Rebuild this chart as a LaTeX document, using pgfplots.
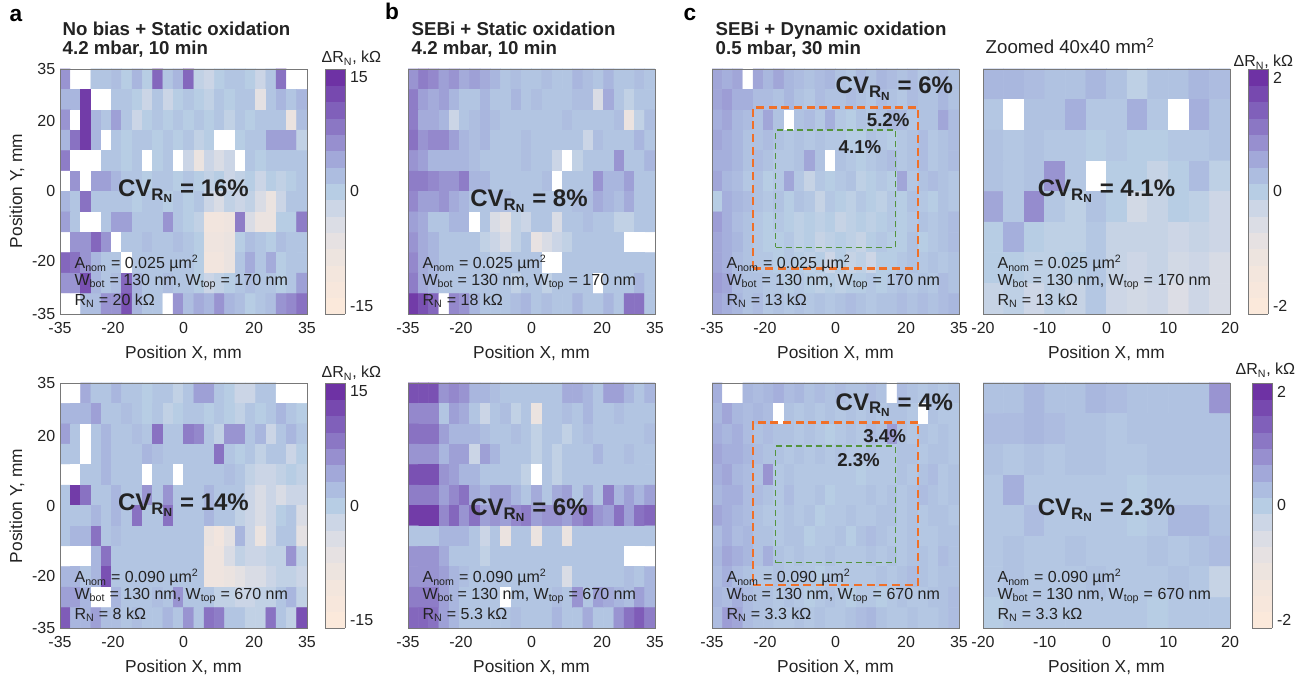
\documentclass[border=0pt]{standalone}
\usepackage{pgfplots}
\pgfplotsset{compat=1.18}
\usepackage{pgfplotstable}
\usepackage{fontspec}
\setmainfont{Liberation Sans}

% ---------- data: one grid row per text line, top row first; 99 = missing (white) cell ----------
\pgfplotstableread[row sep=\\]{
v\\
6\\ 99\\ 99\\ 1\\ 1\\ 2\\ 0\\ 3\\ 0\\ 10\\ 1\\ 3\\ 10\\ -1\\ -2\\ 0\\ 1\\ 1\\ 0\\ -2\\ 1\\ 9\\ 99\\ 99\\
3\\ 3\\ 14\\ 99\\ 99\\ 1\\ 1\\ 0\\ -2\\ 1\\ -2\\ 0\\ 1\\ 0\\ -1\\ 1\\ 0\\ 1\\ 1\\ -6\\ 1\\ 3\\ 1\\ 3\\
6\\ 99\\ 14\\ 3\\ 1\\ 5\\ 1\\ -2\\ 0\\ 1\\ 0\\ 1\\ 0\\ 1\\ 0\\ 1\\ -1\\ 1\\ 0\\ 1\\ 1\\ 1\\ -8\\ 2\\
3\\ 9\\ 14\\ 3\\ 99\\ 1\\ 0\\ 1\\ 1\\ 0\\ 1\\ 0\\ 1\\ -1\\ 0\\ 99\\ 99\\ 0\\ 1\\ 1\\ 5\\ 5\\ 5\\ -1\\
8\\ 99\\ 99\\ 99\\ 1\\ 1\\ 0\\ 1\\ 99\\ 0\\ 1\\ 99\\ -2\\ -8\\ -2\\ -4\\ -2\\ 99\\ 1\\ 0\\ 1\\ 1\\ 1\\ 1\\
99\\ 6\\ 99\\ 5\\ 5\\ 3\\ 1\\ 1\\ 0\\ 1\\ 1\\ 0\\ 1\\ 0\\ -1\\ 0\\ -2\\ -1\\ 0\\ -2\\ 0\\ -1\\ 0\\ 1\\
3\\ 1\\ 9\\ 1\\ 1\\ 1\\ 1\\ 0\\ 1\\ 1\\ 0\\ 1\\ 0\\ 1\\ -2\\ -4\\ -1\\ -2\\ -1\\ -4\\ -8\\ -2\\ 1\\ 1\\
5\\ 1\\ 99\\ 99\\ 1\\ 5\\ 5\\ 1\\ 1\\ 1\\ 6\\ 1\\ 0\\ -1\\ -10\\ -10\\ -9\\ 8\\ -4\\ -8\\ -8\\ 0\\ 0\\ 8\\
99\\ 6\\ 6\\ 10\\ 6\\ 99\\ 1\\ 1\\ 2\\ 1\\ 1\\ 2\\ 1\\ 0\\ -9\\ -9\\ -8\\ 0\\ 2\\ 1\\ 0\\ 2\\ 1\\ 1\\
10\\ 9\\ 6\\ 3\\ 1\\ 1\\ 99\\ 1\\ 1\\ 1\\ 1\\ 1\\ 1\\ 0\\ -10\\ -10\\ -8\\ 1\\ 4\\ 1\\ 4\\ 0\\ 1\\ 1\\
6\\ 6\\ 12\\ 3\\ 1\\ 2\\ 10\\ 3\\ 1\\ 1\\ 2\\ 1\\ 1\\ 0\\ -2\\ -1\\ 0\\ 1\\ 2\\ 1\\ 1\\ 0\\ 1\\ 5\\
99\\ 99\\ 2\\ 2\\ 6\\ 6\\ 12\\ 3\\ 1\\ 1\\ 99\\ 6\\ 2\\ 4\\ 3\\ 6\\ 3\\ 2\\ 0\\ 1\\ 2\\ 6\\ 7\\ 9\\
}\tAtop

\pgfplotstableread[row sep=\\]{
v\\
99\\ 99\\ 4\\ 1\\ 1\\ 3\\ 1\\ 1\\ 0\\ 1\\ 1\\ -1\\ 1\\ 5\\ 5\\ 1\\ 0\\ -2\\ -2\\ 1\\ 1\\ 99\\ 99\\ 99\\
3\\ 3\\ 3\\ 5\\ 1\\ 1\\ 2\\ 1\\ 0\\ 1\\ -1\\ 0\\ 1\\ 1\\ 0\\ 1\\ 0\\ -1\\ 1\\ 0\\ 1\\ 3\\ 1\\ 0\\
5\\ 1\\ 99\\ 1\\ 3\\ 1\\ 1\\ 2\\ 1\\ 9\\ 1\\ 1\\ 8\\ 7\\ 1\\ -1\\ 6\\ 6\\ 1\\ 3\\ -2\\ 1\\ 3\\ 1\\
1\\ 1\\ 99\\ 1\\ 3\\ 1\\ 1\\ 1\\ 3\\ 2\\ 1\\ 1\\ 1\\ 1\\ 1\\ 9\\ 1\\ 0\\ 1\\ -1\\ 1\\ 1\\ -2\\ 0\\
99\\ 99\\ 1\\ 1\\ 3\\ 1\\ 1\\ 1\\ 99\\ 1\\ 1\\ 99\\ 1\\ 1\\ 1\\ 1\\ 2\\ 1\\ -1\\ -2\\ -2\\ -1\\ 0\\ -1\\
1\\ 14\\ 9\\ 1\\ 1\\ 3\\ 1\\ 1\\ 6\\ 1\\ 6\\ 1\\ 1\\ 1\\ 3\\ 1\\ 1\\ 1\\ -2\\ -4\\ -2\\ -4\\ -2\\ -2\\
1\\ 1\\ 1\\ 3\\ 1\\ 3\\ 1\\ 9\\ 1\\ 1\\ 9\\ 1\\ 1\\ 1\\ 3\\ 1\\ 1\\ -1\\ -2\\ -4\\ -2\\ 0\\ 1\\ -4\\
1\\ 3\\ 3\\ 9\\ 1\\ 2\\ 1\\ 1\\ 1\\ 1\\ 1\\ 1\\ 1\\ 1\\ -8\\ -10\\ -6\\ 3\\ -2\\ -8\\ -2\\ 1\\ 1\\ -6\\
99\\ 99\\ 99\\ 3\\ 9\\ 1\\ 1\\ 1\\ 1\\ 1\\ 1\\ 1\\ 1\\ 1\\ -9\\ -9\\ -4\\ -1\\ -2\\ -2\\ -1\\ -1\\ 6\\ -1\\
3\\ 3\\ 1\\ 3\\ 12\\ 1\\ 1\\ 1\\ 1\\ 1\\ 1\\ 1\\ 1\\ 1\\ -9\\ -9\\ -8\\ -6\\ -4\\ -4\\ -2\\ -1\\ -1\\ -2\\
5\\ 5\\ 3\\ 99\\ 99\\ 3\\ 1\\ 1\\ 1\\ 2\\ 1\\ 6\\ 1\\ 1\\ 1\\ -1\\ -1\\ -2\\ -2\\ -1\\ -1\\ 1\\ 3\\ -1\\
11\\ 3\\ 3\\ 5\\ 2\\ 2\\ 1\\ 2\\ 1\\ 1\\ 3\\ 1\\ 6\\ 1\\ 9\\ 8\\ 1\\ 1\\ -1\\ -1\\ 9\\ 1\\ -1\\ 12\\
}\tAbot

\pgfplotstableread[row sep=\\]{
v\\
6\\ 8\\ 7\\ 5\\ 6\\ 4\\ 5\\ 4\\ 3\\ 1\\ 2\\ 1\\ 1\\ 2\\ 1\\ 1\\ 3\\ 2\\ 1\\ 3\\ 1\\ 1\\ 2\\ 1\\
8\\ 5\\ 4\\ 5\\ 3\\ 1\\ 1\\ 3\\ 1\\ 1\\ 3\\ 1\\ 2\\ 1\\ 1\\ 1\\ 2\\ 2\\ -4\\ 4\\ 1\\ -1\\ 1\\ 1\\
8\\ 4\\ 4\\ 3\\ -2\\ 1\\ 2\\ 3\\ 2\\ 1\\ 1\\ 1\\ 1\\ 1\\ 1\\ 2\\ 1\\ 1\\ 1\\ 1\\ 2\\ -8\\ -1\\ 2\\
9\\ 6\\ 7\\ 7\\ 5\\ 3\\ 2\\ 3\\ 1\\ 1\\ 1\\ 2\\ 1\\ 1\\ 1\\ 1\\ 1\\ -2\\ 2\\ 1\\ 1\\ 1\\ 3\\ 1\\
6\\ 5\\ 3\\ 3\\ 3\\ 3\\ 2\\ 1\\ 1\\ 1\\ 1\\ 2\\ 1\\ 1\\ -2\\ 99\\ -1\\ 1\\ 1\\ 1\\ 6\\ 1\\ 1\\ 3\\
8\\ 8\\ 7\\ 6\\ 6\\ 8\\ 3\\ 3\\ 1\\ 1\\ 1\\ 1\\ 1\\ 2\\ 99\\ 1\\ 1\\ 1\\ 6\\ 3\\ 3\\ 5\\ 1\\ 1\\
7\\ 5\\ 5\\ 6\\ 4\\ 3\\ 1\\ 1\\ 2\\ 2\\ 1\\ 1\\ 1\\ 1\\ 1\\ 1\\ 2\\ 2\\ 4\\ 3\\ 2\\ 4\\ 1\\ 1\\
5\\ 4\\ 1\\ 1\\ 3\\ 3\\ 99\\ 1\\ -4\\ -6\\ -1\\ -2\\ 1\\ 1\\ -4\\ 1\\ 1\\ 2\\ 1\\ 1\\ -1\\ -1\\ 1\\ 1\\
6\\ 4\\ 3\\ 1\\ 1\\ 1\\ 1\\ -1\\ -2\\ -4\\ -1\\ 1\\ -7\\ -4\\ -2\\ -1\\ 1\\ 1\\ 1\\ 1\\ 1\\ 99\\ 99\\ 99\\
7\\ 4\\ 3\\ 1\\ 1\\ 1\\ 1\\ 1\\ -1\\ 1\\ 1\\ 1\\ 1\\ 99\\ 99\\ 1\\ 1\\ 1\\ 1\\ 1\\ 1\\ 1\\ 1\\ 1\\
8\\ 4\\ 3\\ 1\\ 1\\ 1\\ 1\\ 1\\ 1\\ 1\\ -1\\ 1\\ 1\\ -1\\ 1\\ 1\\ 1\\ 1\\ 99\\ 1\\ 1\\ 1\\ 3\\ 1\\
14\\ 12\\ 10\\ 99\\ 7\\ 6\\ 3\\ 1\\ 1\\ 1\\ 2\\ 3\\ 1\\ 2\\ 1\\ 1\\ 3\\ 1\\ 1\\ 3\\ 1\\ 9\\ 9\\ 1\\
}\tBtop

\pgfplotstableread[row sep=\\]{
v\\
12\\ 12\\ 12\\ 6\\ 7\\ 6\\ 3\\ 3\\ 2\\ 1\\ 1\\ 1\\ 1\\ 1\\ 1\\ 4\\ 4\\ 3\\ 1\\ 5\\ 5\\ 3\\ 1\\ 3\\
7\\ 7\\ 7\\ 1\\ 5\\ 4\\ 1\\ -2\\ 1\\ 2\\ -1\\ 1\\ -8\\ 1\\ 1\\ 2\\ 1\\ 3\\ 1\\ 1\\ 2\\ 1\\ 1\\ 1\\
9\\ 9\\ 9\\ 5\\ 3\\ 3\\ 3\\ 2\\ 1\\ 1\\ 2\\ 1\\ -1\\ 1\\ 1\\ -1\\ 1\\ 2\\ 1\\ 1\\ 1\\ 1\\ 1\\ 2\\
6\\ 6\\ 6\\ 3\\ 5\\ 5\\ -2\\ 5\\ 3\\ 1\\ 1\\ 1\\ -1\\ 1\\ -1\\ 1\\ 1\\ 1\\ 3\\ 1\\ 1\\ 2\\ 1\\ 1\\
12\\ 12\\ 12\\ 6\\ 5\\ 3\\ 3\\ 1\\ 1\\ 1\\ 1\\ -1\\ 99\\ 1\\ -1\\ 1\\ 1\\ 1\\ 1\\ 1\\ 1\\ 1\\ 1\\ 1\\
8\\ 8\\ 8\\ 5\\ 7\\ 9\\ 4\\ 3\\ 5\\ 5\\ 3\\ 1\\ 4\\ 1\\ 4\\ 5\\ 1\\ 4\\ 1\\ 8\\ 3\\ 5\\ 3\\ 5\\
14\\ 14\\ 14\\ 7\\ 10\\ 6\\ 9\\ 5\\ 6\\ 5\\ 7\\ 8\\ 5\\ 6\\ 6\\ 5\\ 7\\ 9\\ 6\\ 5\\ 9\\ 5\\ 9\\ 10\\
1\\ 1\\ 1\\ 3\\ 3\\ 3\\ 1\\ -2\\ 1\\ -8\\ 1\\ 1\\ -8\\ 1\\ 1\\ -8\\ 1\\ 1\\ 1\\ 1\\ 1\\ 1\\ 1\\ 1\\
6\\ 6\\ 6\\ 4\\ 1\\ 1\\ 1\\ -1\\ 1\\ 1\\ 1\\ 1\\ 1\\ 1\\ 1\\ 1\\ 1\\ 1\\ 1\\ 1\\ 1\\ 99\\ 99\\ 99\\
6\\ 6\\ 6\\ 5\\ 3\\ 2\\ 1\\ 1\\ 1\\ 1\\ 1\\ 1\\ 1\\ 1\\ 1\\ -4\\ 1\\ 1\\ 1\\ 1\\ 1\\ 2\\ 1\\ 3\\
8\\ 8\\ 8\\ 5\\ 3\\ 1\\ 1\\ 1\\ 1\\ 99\\ 1\\ 1\\ 1\\ 1\\ 2\\ 1\\ 6\\ 1\\ 5\\ 4\\ 3\\ 2\\ 5\\ 3\\
10\\ 10\\ 9\\ 5\\ 3\\ 1\\ 1\\ 1\\ 1\\ 1\\ 2\\ 1\\ 1\\ 1\\ 3\\ 1\\ 1\\ 4\\ 1\\ 1\\ 6\\ 9\\ 11\\ 8\\
}\tBbot

\pgfplotstableread[row sep=\\]{
v\\
0.6\\ 0.5\\ 0.6\\ 99\\ 0.6\\ 0.4\\ 0.6\\ 0.4\\ 0.3\\ 0.2\\ 0.3\\ 0.4\\ 0.2\\ 0.1\\ 0.3\\ 0.2\\ 0.4\\ 0.3\\ 0.2\\ 0.3\\ 0.1\\ 0.2\\ 0.3\\ 0.2\\
0.6\\ 0.7\\ 0.5\\ 0.5\\ 0.3\\ 0.3\\ 0.2\\ 0.4\\ 0.2\\ 0.1\\ 0.3\\ 0.2\\ 0.2\\ 0.3\\ 0.2\\ 0.1\\ 0.3\\ 0.2\\ 0.1\\ 0.3\\ 0.2\\ 0.2\\ 0.4\\ 0.2\\
0.5\\ 0.6\\ 0.4\\ 0.3\\ 0.2\\ 0.6\\ 0.2\\ 99\\ 0.2\\ 0.3\\ 0.1\\ 0.5\\ 0.1\\ 0\\ 0.2\\ 0.1\\ 0.2\\ 0.4\\ 0.3\\ 0.1\\ 0.2\\ 0.2\\ 0.6\\ 0.3\\
0.6\\ 0.5\\ 0.4\\ 0.2\\ 0.2\\ 0.3\\ 0.2\\ 0.1\\ 0.2\\ 0.1\\ 0.2\\ 0.1\\ 0.1\\ 0\\ 0\\ 0.2\\ 0.1\\ 0\\ 0.1\\ 0.2\\ 0.3\\ 0.1\\ 0.2\\ 0.3\\
0.5\\ 0.5\\ 0.4\\ 0.2\\ 0.3\\ 0.2\\ 0.1\\ 0.1\\ 0.2\\ 0.6\\ 0.2\\ 99\\ 0.2\\ 0.1\\ 0\\ 0.1\\ 0.2\\ 0.3\\ 0.1\\ 0.2\\ 0.3\\ 0.1\\ 0.2\\ 0.3\\
0.6\\ 0.4\\ 0.3\\ 0.1\\ 0.2\\ 0\\ 0.1\\ 0.6\\ 0.1\\ -0.2\\ 0.1\\ 0\\ 0.1\\ 0.2\\ -0.1\\ 0\\ 0.1\\ 0\\ 0.6\\ 0.1\\ 0.2\\ 0.3\\ 0.2\\ 0.1\\
0\\ 0.5\\ 0.4\\ 0.3\\ 0.2\\ 0.1\\ 0.2\\ 0\\ 0.2\\ 0.1\\ -0.2\\ 0.1\\ 0\\ -0.1\\ 0.1\\ 0\\ -0.1\\ 0.1\\ 0\\ 0.2\\ 0.1\\ 0\\ 0.2\\ 0.1\\
0.7\\ 0.5\\ 0.3\\ 0.2\\ 0.1\\ 0\\ 0.1\\ 0\\ -0.1\\ 0\\ -0.1\\ 0\\ -0.2\\ -0.1\\ 0\\ -0.1\\ 0\\ 0.1\\ 0\\ 0.1\\ 0.2\\ 0.1\\ 0.2\\ 0.3\\
0.6\\ 0.5\\ 0.4\\ 0.2\\ 0.1\\ 0\\ 0\\ 0.1\\ -0.1\\ 0\\ -0.2\\ -0.1\\ 0\\ -0.1\\ -0.2\\ 0\\ 0.1\\ 0\\ 0\\ 0.2\\ 0\\ 0.1\\ 0.2\\ 0.3\\
0.6\\ 0.5\\ 0.3\\ 0.2\\ 0.1\\ 0.1\\ 0\\ 0.1\\ 0\\ -0.1\\ 0\\ -0.3\\ 0\\ -0.2\\ -0.1\\ -0.3\\ 0\\ 0\\ 0.1\\ 0.2\\ 0.1\\ 0.2\\ 0.1\\ 0.2\\
0.7\\ 0.6\\ 0.3\\ 0.2\\ 0.2\\ 0.1\\ 0.1\\ 0\\ 0.1\\ 0\\ -0.1\\ 0\\ -0.1\\ 0\\ 0\\ 0.1\\ 0\\ 0.1\\ 0.2\\ 0.1\\ 0.2\\ 0.1\\ 0.3\\ 0.2\\
0.6\\ 0.5\\ 0.4\\ 0.2\\ 0.3\\ 0.1\\ 0.2\\ 0.1\\ 0.2\\ 0.1\\ 0.2\\ 0.1\\ 0.2\\ 0.3\\ 0.2\\ 0.1\\ 0.2\\ 0.2\\ 0.3\\ 0.2\\ 0.3\\ 0.2\\ 0.3\\ 0.4\\
}\tCtop

\pgfplotstableread[row sep=\\]{
v\\
0.5\\ 99\\ 99\\ 0.4\\ 0.3\\ 0.4\\ 0.5\\ 0.3\\ 0.4\\ 0.2\\ 0.3\\ 0.2\\ 0.3\\ 0.2\\ 0.2\\ 0.3\\ 0.2\\ 99\\ 0.3\\ 0.2\\ 0.1\\ 0.2\\ 0.1\\ 0.2\\
0.4\\ 0.6\\ 0.4\\ 0.3\\ 0.4\\ 0.3\\ 99\\ 0.2\\ 0.1\\ 0.2\\ 0.1\\ 0.2\\ 0.1\\ 0.2\\ 0.1\\ 0.2\\ 0.1\\ 0.2\\ 0.2\\ 0.1\\ 99\\ 0.2\\ 0.1\\ 0.1\\
0.5\\ 0.4\\ 0.5\\ 0.3\\ 0.2\\ 0.3\\ 0.2\\ 0.2\\ 0.1\\ 0.2\\ 0.1\\ 0\\ 0.1\\ 0.2\\ 0.1\\ 0.3\\ 0.2\\ 0.7\\ 0.2\\ 0.1\\ 0.2\\ 0.1\\ 0.2\\ 0.1\\
0.6\\ 0.5\\ 0.5\\ 0.4\\ 0.3\\ 0.2\\ 0.2\\ 0.1\\ 0.2\\ 0.1\\ 0.2\\ 0.1\\ 0.2\\ 0.1\\ 0.1\\ 0.2\\ 0.1\\ 0.1\\ 0.2\\ 0.2\\ 0.1\\ 0.2\\ 0.2\\ 0.1\\
0.5\\ 0.6\\ 0.4\\ 0.3\\ 0.2\\ 0.8\\ 0.1\\ 0.2\\ 0.1\\ 0.1\\ 0.1\\ 0.1\\ 0.1\\ 0.1\\ 0\\ 0.1\\ 0.1\\ 0.1\\ 0.2\\ 0.1\\ 0.2\\ 0.3\\ 0.1\\ 0.2\\
0.4\\ 0.5\\ 0.5\\ 0.3\\ 0.3\\ 0.2\\ 0.1\\ 0.3\\ 0.1\\ 0.1\\ 0.2\\ 0\\ 0.1\\ 0.1\\ 0.1\\ 0.2\\ 0.1\\ 0.2\\ 0.1\\ 0.2\\ 0.3\\ 0.2\\ 0.1\\ 0.2\\
0.6\\ 0.5\\ 0.4\\ 0.3\\ 0.2\\ 0.1\\ 0.1\\ 0.2\\ 0.1\\ 0.2\\ 0\\ 0.1\\ 0.1\\ 0.2\\ 0.1\\ 0.1\\ 0.2\\ 0.2\\ 0.1\\ 0.2\\ 0.1\\ 0.2\\ 0.2\\ 0.1\\
0.3\\ 0.5\\ 0.3\\ 0.4\\ 0.2\\ 0.2\\ 0.1\\ 0.2\\ 0.2\\ 0\\ 0.1\\ 0.1\\ 0.2\\ 0\\ 0.2\\ 0.3\\ 0.2\\ 0.1\\ 0.1\\ 0.2\\ 0.1\\ 0.1\\ 0.2\\ 0.2\\
0.4\\ 0.6\\ 0.5\\ 0.4\\ 0.2\\ 0.5\\ 0.2\\ 0.1\\ 0.2\\ 0.1\\ 0.1\\ 0.2\\ 0.1\\ 0.1\\ 0.1\\ 0.2\\ 0.1\\ 0.2\\ 0.1\\ 0.2\\ 0.2\\ 0.1\\ 0.3\\ 0.2\\
0.3\\ 0.5\\ 0.3\\ 0.2\\ 0.1\\ 0.1\\ 0.2\\ 0.1\\ 0.1\\ 0.1\\ 0\\ 0.1\\ 0.1\\ 0.1\\ 0.1\\ 0.1\\ 0.2\\ 0.1\\ 0.2\\ 0.3\\ 0.2\\ 0.1\\ 0.2\\ 0.2\\
0.4\\ 0.3\\ 0.5\\ 0.3\\ 0.2\\ 0.2\\ 0.1\\ 0.2\\ 0.1\\ 0\\ 0.1\\ 0.2\\ 0.1\\ 0\\ 0.1\\ 0.1\\ 0\\ 0.1\\ 0.2\\ 0.1\\ 0.1\\ 0.2\\ 0.2\\ 0.3\\
0.3\\ 0.7\\ 0.6\\ 0.3\\ 0.2\\ 0.2\\ 0.1\\ 0.1\\ 0.2\\ 0.1\\ 0.2\\ 0.1\\ 0.1\\ 0.2\\ 0.3\\ 0.4\\ 0.2\\ 0.1\\ 0.1\\ 0.2\\ 0.1\\ 0.1\\ 0.2\\ 0.3\\
}\tCbot

\pgfplotstableread[row sep=\\]{
v\\
0.4\\ 0.4\\ 0.3\\ 0.2\\ 0.2\\ 0.4\\ 0.2\\ -0.1\\ 0.2\\ 0.2\\ 0.4\\ 0.3\\
0.1\\ 99\\ 0.2\\ 0.2\\ 0.5\\ 0.1\\ 0.1\\ 0.5\\ 0.1\\ 99\\ 0.5\\ 0.2\\
0.2\\ 0.1\\ 0.2\\ 0.1\\ 0.1\\ 0\\ 0.1\\ 0\\ 0\\ 0.1\\ 0.1\\ 0.2\\
0.2\\ 0.1\\ 0.2\\ 0.8\\ 0.1\\ 99\\ 0\\ 0\\ -0.2\\ 0\\ 0.3\\ -0.1\\
0.6\\ 0.1\\ 0.9\\ 0.1\\ -0.1\\ 0.2\\ 0\\ -0.4\\ -0.2\\ 0\\ -0.1\\ -0.3\\
0\\ 0.5\\ 0\\ -0.1\\ -0.1\\ 0.1\\ -0.2\\ -0.2\\ -0.2\\ -0.3\\ -0.2\\ -0.3\\
0\\ 0\\ -0.1\\ -0.1\\ 0\\ 0.1\\ -0.2\\ -0.3\\ -0.2\\ -0.4\\ -0.3\\ -0.5\\
-0.2\\ -0.1\\ -0.3\\ -0.1\\ -0.2\\ 0.1\\ -0.3\\ -0.4\\ -0.3\\ -0.6\\ -0.3\\ -0.5\\
}\tZtop

\pgfplotstableread[row sep=\\]{
v\\
0.2\\ 0.2\\ 0.4\\ 0.2\\ 0.2\\ 0.4\\ 0.3\\ 0.2\\ 0.2\\ 0.2\\ 0.2\\ 0.8\\
0.3\\ 0.3\\ 0.4\\ 0.3\\ 0.2\\ 0.2\\ 0.1\\ 0.2\\ 0.2\\ 0.2\\ 0.2\\ 0.2\\
0.2\\ 0.1\\ 0.2\\ 0.1\\ 0.2\\ 0.2\\ 0.1\\ 0.1\\ 0.2\\ 0.2\\ 0.2\\ 0.2\\
0.1\\ 0.5\\ 0.1\\ 0.1\\ 0.1\\ 0.1\\ 0.1\\ 0\\ 0.1\\ 0.1\\ 0.1\\ 0.1\\
0.1\\ 0.1\\ 0.3\\ 0.1\\ 0.1\\ 0.1\\ 0.1\\ 0\\ 0.1\\ 0.4\\ 0.4\\ 0.2\\
0.1\\ 0.2\\ 0.1\\ 0.1\\ 0.2\\ 0.1\\ 0.1\\ 0.1\\ 0.2\\ 0.1\\ 0.2\\ 0.3\\
0.1\\ 0.2\\ 0.1\\ 0.1\\ 0.1\\ 0.2\\ 0.1\\ 0.1\\ 0.1\\ 0.2\\ 0.1\\ -0.2\\
0\\ 0.1\\ 0.1\\ 0.1\\ 0.1\\ 0.1\\ 0.1\\ 0.1\\ 0\\ 0.1\\ 0.1\\ 0.1\\
}\tZbot

% ---------- styles ----------
\definecolor{frame}{RGB}{120,120,120}
\definecolor{txt}{RGB}{35,35,35}
\definecolor{dashor}{RGB}{240,112,40}
\definecolor{dashgr}{RGB}{84,148,60}

% colormap: 0..30 is the data scale shown in the colour bar; 30..32 is white (missing cells)
\pgfplotsset{
  colormap={rn}{rgb255(0pt)=(253,234,218) rgb255(6pt)=(241,229,222) rgb255(10pt)=(226,224,228) rgb255(13pt)=(204,214,230) rgb255(15pt)=(183,205,228) rgb255(18pt)=(168,181,222) rgb255(21pt)=(151,143,207) rgb255(25pt)=(128,96,186) rgb255(30pt)=(105,38,158) rgb255(30.2pt)=(255,255,255) rgb255(32pt)=(255,255,255)},
  hm/.style={
    scale only axis, width=185.25pt, height=183.75pt,
    enlargelimits=false, axis on top,
    axis line style={draw=frame},
    tick style={draw=none},
    colormap name=rn,
    /pgf/number format/assume math mode=true,
    ticklabel style={font=\fontsize{12}{14}\selectfont, text=txt},
    xticklabel style={yshift=-3pt},
    xlabel={Position X, mm},
    xlabel style={font=\fontsize{13}{15}\selectfont, text=txt, at={(axis description cs:0.5,-0.16)}, anchor=center},
  },
  big/.style={hm, xmin=-35, xmax=35, ymin=-35, ymax=35,
    xtick={-35,-20,0,20,35}, ytick={-35,-20,0,20,35},
    point meta min=-16, point meta max=18.1333},
  smallmeta/.style={point meta min=-2.15, point meta max=2.4367},
  small/.style={hm, xmin=-20, xmax=20, ymin=-20, ymax=20,
    xtick={-20,-10,0,10,20}, ytick={-20,-10,0,10,20}, smallmeta},
  noy/.style={yticklabels={}},
  cb/.style n args={3}{colorbar, colorbar sampled,
    colorbar style={width=15pt, at={(parent axis.north east)}, anchor=north west,
      xshift=#1, ytick={#2}, ymax=#3, samples=17,
      axis line style={draw=frame}, tick style={draw=none},
      yticklabel style={font=\fontsize{12}{14}\selectfont, text=txt},
      /pgf/number format/assume math mode=true}},
}

% grid position of the n-th value: column = n - cols*row, row = floor((n+0.5)/cols)
\newcommand{\hmplot}[4]{%
  \addplot[matrix plot*, mesh/cols=#1, point meta=explicit]
    table[x index=0, y index=0, meta index=0,
          x expr={-#3+(\coordindex-#1*floor((\coordindex+0.5)/#1)+0.5)*2*#3/#1},
          y expr={#3-(floor((\coordindex+0.5)/#1)+0.5)*2*#3/#2}] {#4};}

\newcommand{\info}[3]{%
  \node[anchor=west, font=\fontsize{12}{14}\selectfont, text=txt] at (axis description cs:0.04,0.205) {A\textsubscript{nom} = #1 µm\textsuperscript{2}};
  \node[anchor=west, font=\fontsize{12}{14}\selectfont, text=txt] at (axis description cs:0.04,0.13) {W\textsubscript{bot} = 130 nm, W\textsubscript{top} = #2 nm};
  \node[anchor=west, font=\fontsize{12}{14}\selectfont, text=txt] at (axis description cs:0.04,0.055) {R\textsubscript{N} = #3 kΩ};}

\newcommand{\cv}[1]{CV\textsubscript{R\textsubscript{N}} = #1}
\newcommand{\cvfont}{\bfseries\fontsize{18}{20}\selectfont}

\begin{document}
\begin{tikzpicture}[x=0.75pt, y=0.75pt]
\useasboundingbox (0,0) rectangle (1314,684);

% panel letters and titles
\node[anchor=base, font=\bfseries\fontsize{17}{19}\selectfont] at (16,662) {a};
\node[anchor=base, font=\bfseries\fontsize{17}{19}\selectfont] at (392,664) {b};
\node[anchor=base, font=\bfseries\fontsize{17}{19}\selectfont] at (690,663) {c};
\node[anchor=base west, font=\bfseries\fontsize{14}{16}\selectfont, text=txt] at (58,648) {No bias + Static oxidation};
\node[anchor=base west, font=\bfseries\fontsize{14}{16}\selectfont, text=txt] at (58,629) {4.2 mbar, 10 min};
\node[anchor=base west, font=\bfseries\fontsize{14}{16}\selectfont, text=txt] at (407,648) {SEBi + Static oxidation};
\node[anchor=base west, font=\bfseries\fontsize{14}{16}\selectfont, text=txt] at (407,629) {4.2 mbar, 10 min};
\node[anchor=base west, font=\bfseries\fontsize{14}{16}\selectfont, text=txt] at (711,648) {SEBi + Dynamic oxidation};
\node[anchor=base west, font=\bfseries\fontsize{14}{16}\selectfont, text=txt] at (711,629) {0.5 mbar, 30 min};
\node[anchor=base west, font=\fontsize{14}{16}\selectfont, text=txt] at (981,630) {Zoomed 40x40 mm\textsuperscript{2}};

% colorbar titles
\node[anchor=base west, font=\fontsize{12}{14}\selectfont, text=txt] at (317,621) {ΔR\textsubscript{N}, kΩ};
\node[anchor=base west, font=\fontsize{12}{14}\selectfont, text=txt] at (317,306) {ΔR\textsubscript{N}, kΩ};
\node[anchor=base west, font=\fontsize{12}{14}\selectfont, text=txt] at (1229,617) {ΔR\textsubscript{N}, kΩ};
\node[anchor=base west, font=\fontsize{12}{14}\selectfont, text=txt] at (1231,309) {ΔR\textsubscript{N}, kΩ};

% y axis labels
\node[rotate=90, font=\fontsize{13}{15}\selectfont, text=txt] at (17,493) {Position Y, mm};
\node[rotate=90, font=\fontsize{13}{15}\selectfont, text=txt] at (17,178) {Position Y, mm};

% ---------------- top row ----------------
\begin{axis}[big, at={(45pt,461.25pt)}, anchor=north west, cb={5.25pt}{-15,0,15}{16}]
  \hmplot{24}{12}{35}{\tAtop}
  \node[font=\cvfont, text=txt] at (axis description cs:0.5,0.5) {\cv{16\%}};
  \info{0.025}{170}{20}
\end{axis}

\begin{axis}[big, noy, at={(306pt,461.25pt)}, anchor=north west]
  \hmplot{24}{12}{35}{\tBtop}
  \node[font=\cvfont, text=txt] at (axis description cs:0.49,0.46) {\cv{8\%}};
  \info{0.025}{170}{18}
\end{axis}

\begin{axis}[big, noy, smallmeta, at={(534pt,461.25pt)}, anchor=north west]
  \hmplot{24}{12}{35}{\tCtop}
  \addplot[draw=dashor, line width=1.6pt, dash pattern=on 6pt off 3.5pt] coordinates {(-23.5,-22) (23.5,-22) (23.5,24) (-23.5,24) (-23.5,-22)};
  \addplot[draw=dashgr, line width=1.3pt, dash pattern=on 4.5pt off 3pt] coordinates {(-17,-16) (17,-16) (17,17.5) (-17,17.5) (-17,-16)};
  \node[font=\cvfont, text=txt, anchor=east] at (axis description cs:0.995,0.92) {\cv{6\%}};
  \node[font=\bfseries\fontsize{14}{16}\selectfont, text=txt, anchor=east] at (axis cs:22.3,20.4) {5.2\%};
  \node[font=\bfseries\fontsize{14}{16}\selectfont, text=txt, anchor=east] at (axis cs:14.3,12.6) {4.1\%};
  \info{0.025}{170}{13}
\end{axis}

\begin{axis}[small, noy, at={(737.25pt,461.25pt)}, anchor=north west, cb={5.25pt}{-2,0,2}{2.15}]
  \hmplot{12}{8}{20}{\tZtop}
  \node[font=\cvfont, text=txt] at (axis description cs:0.5,0.5) {\cv{4.1\%}};
  \info{0.025}{170}{13}
\end{axis}

% ---------------- bottom row ----------------
\begin{axis}[big, at={(45pt,225.75pt)}, anchor=north west, cb={5.25pt}{-15,0,15}{16}]
  \hmplot{24}{12}{35}{\tAbot}
  \node[font=\cvfont, text=txt] at (axis description cs:0.5,0.5) {\cv{14\%}};
  \info{0.090}{670}{8}
\end{axis}

\begin{axis}[big, noy, at={(306pt,225.75pt)}, anchor=north west]
  \hmplot{24}{12}{35}{\tBbot}
  \node[font=\cvfont, text=txt] at (axis description cs:0.49,0.48) {\cv{6\%}};
  \info{0.090}{670}{5.3}
\end{axis}

\begin{axis}[big, noy, smallmeta, at={(534pt,225.75pt)}, anchor=north west]
  \hmplot{24}{12}{35}{\tCbot}
  \addplot[draw=dashor, line width=1.6pt, dash pattern=on 6pt off 3.5pt] coordinates {(-23.5,-22.8) (23.5,-22.8) (23.5,23.7) (-23.5,23.7) (-23.5,-22.8)};
  \addplot[draw=dashgr, line width=1.3pt, dash pattern=on 4.5pt off 3pt] coordinates {(-17,-16.3) (17,-16.3) (17,16.9) (-17,16.9) (-17,-16.3)};
  \node[font=\cvfont, text=txt, anchor=east] at (axis description cs:0.995,0.91) {\cv{4\%}};
  \node[font=\bfseries\fontsize{14}{16}\selectfont, text=txt, anchor=east] at (axis cs:21.3,19.7) {3.4\%};
  \node[font=\bfseries\fontsize{14}{16}\selectfont, text=txt, anchor=east] at (axis cs:13.9,12.9) {2.3\%};
  \info{0.090}{670}{3.3}
\end{axis}

\begin{axis}[small, noy, at={(737.25pt,225.75pt)}, anchor=north west, cb={8.25pt}{-2,0,2}{2.15}]
  \hmplot{12}{8}{20}{\tZbot}
  \node[font=\cvfont, text=txt] at (axis description cs:0.5,0.48) {\cv{2.3\%}};
  \info{0.090}{670}{3.3}
\end{axis}
\end{tikzpicture}
\end{document}
